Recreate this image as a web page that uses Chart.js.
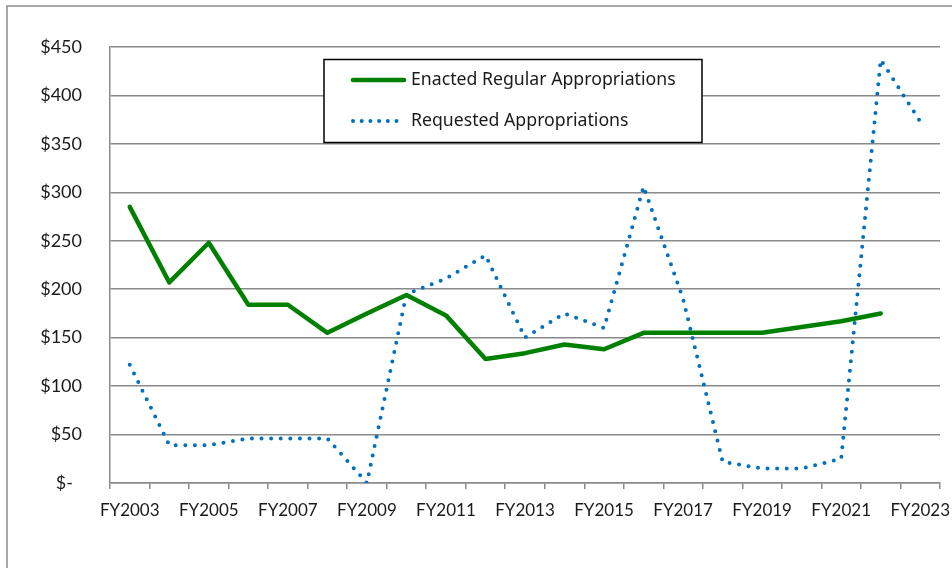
<!DOCTYPE html>
<html>
<head>
<meta charset="utf-8">
<script src="https://cdn.jsdelivr.net/npm/chart.js@4/dist/chart.umd.min.js"></script>
<style>
  html, body { margin: 0; padding: 0; background: #fff; }
  #wrap { position: relative; width: 952px; height: 568px; }
</style>
</head>
<body>
<div id="wrap"><canvas id="c" width="952" height="568"></canvas></div>
<script>
// ---- data ----
const categories = ["FY2003","FY2004","FY2005","FY2006","FY2007","FY2008","FY2009","FY2010","FY2011","FY2012","FY2013","FY2014","FY2015","FY2016","FY2017","FY2018","FY2019","FY2020","FY2021","FY2022","FY2023"];
const enacted   = [285, 207, 248, 184, 184, 155, 175, 194, 173, 128, 134, 143, 138, 155, 155, 155, 155, 161, 167, 175, null];
const requested = [122, 39, 39, 46, 46, 46, 0, 195, 211, 235, 150, 175, 160, 306, 190, 22, 15, 15, 25, 437, 373];
const seriesNames = ["Enacted Regular Appropriations", "Requested Appropriations"];
const yTickValues = [0, 50, 100, 150, 200, 250, 300, 350, 400, 450];

const FONT = "Lato, 'Noto Sans', sans-serif";
const LEGEND_FONT = "'Noto Sans', Lato, sans-serif";
const GRID = "#8a8a8a";
const GREEN = "#008000";
const BLUE = "#0070C0";

const framePlugin = {
  id: 'frame',
  beforeDraw(chart) {
    const ctx = chart.ctx;
    ctx.save();
    ctx.fillStyle = '#fff';
    ctx.fillRect(0, 0, chart.width, chart.height);
    ctx.strokeStyle = '#8c8c8c';
    ctx.lineWidth = 1.5;
    ctx.beginPath();
    ctx.moveTo(7, chart.height);
    ctx.lineTo(7, 6);
    ctx.lineTo(chart.width, 6);
    ctx.stroke();
    ctx.restore();
  }
};

const boxLegend = {
  id: 'boxLegend',
  afterDatasetsDraw(chart) {
    const ctx = chart.ctx;
    const x0 = 324, y0 = 59.5, w = 378, h = 83;
    ctx.save();
    ctx.fillStyle = '#fff';
    ctx.fillRect(x0, y0, w, h);
    ctx.strokeStyle = '#000';
    ctx.lineWidth = 1.5;
    ctx.strokeRect(x0, y0, w, h);
    const rows = [80, 121];
    chart.data.datasets.forEach((ds, i) => {
      const y = rows[i];
      ctx.beginPath();
      ctx.strokeStyle = ds.borderColor;
      ctx.lineWidth = ds.borderWidth;
      ctx.lineCap = 'round';
      ctx.setLineDash(i === 1 ? [0, 8.7] : []);
      ctx.moveTo(353, y);
      ctx.lineTo(i === 1 ? 405 : 404, y);
      ctx.stroke();
      ctx.setLineDash([]);
      ctx.fillStyle = '#1a1a1a';
      ctx.font = "17.7px " + LEGEND_FONT;
      ctx.textBaseline = 'middle';
      ctx.textAlign = 'left';
      ctx.fillText(ds.label, 411, y);
    });
    ctx.restore();
  }
};

new Chart(document.getElementById('c'), {
  type: 'line',
  data: {
    labels: categories,
    datasets: [
      {
        label: seriesNames[0],
        data: enacted,
        borderColor: GREEN,
        backgroundColor: GREEN,
        borderWidth: 4.5,
        pointRadius: 0,
        tension: 0,
        fill: false,
        spanGaps: false,
        borderCapStyle: 'round',
        borderJoinStyle: 'round'
      },
      {
        label: seriesNames[1],
        data: requested,
        borderColor: BLUE,
        backgroundColor: BLUE,
        borderWidth: 4,
        borderDash: [0, 9.6],
        borderCapStyle: 'round',
        pointRadius: 0,
        tension: 0,
        fill: false
      }
    ]
  },
  options: {
    responsive: false,
    animation: false,
    devicePixelRatio: 1,
    layout: { padding: { left: 0, right: 12, top: 47, bottom: 0 } },
    plugins: { legend: { display: false }, tooltip: { enabled: false } },
    scales: {
      x: {
        type: 'category',
        offset: true,
        grid: {
          offset: true,
          drawOnChartArea: false,
          drawTicks: true,
          tickLength: 6,
          color: GRID,
          lineWidth: 1.5
        },
        border: { color: GRID, width: 1.5 },
        ticks: {
          autoSkip: false,
          maxRotation: 0,
          minRotation: 0,
          padding: 11,
          color: '#1a1a1a',
          font: { family: FONT, size: 17 },
          callback: function(value, index) {
            return index % 2 === 0 ? this.getLabelForValue(value) : '';
          }
        },
        afterFit(scale) { scale.height = 85; scale.paddingLeft = 0; scale.paddingRight = 0; }
      },
      y: {
        min: 0,
        max: 450,
        grid: { color: GRID, lineWidth: 1.5, drawTicks: false },
        border: { color: GRID, width: 1.5 },
        afterBuildTicks(scale) { scale.ticks = yTickValues.map(v => ({ value: v })); },
        ticks: {
          padding: 28,
          color: '#1a1a1a',
          font: { family: FONT, size: 18 },
          callback: (v) => v === 0 ? '$-\u2002' : '$' + v
        },
        afterFit(scale) { scale.width = 110; scale.paddingTop = 0; scale.paddingBottom = 0; }
      }
    }
  },
  plugins: [framePlugin, boxLegend]
});
</script>
</body>
</html>
